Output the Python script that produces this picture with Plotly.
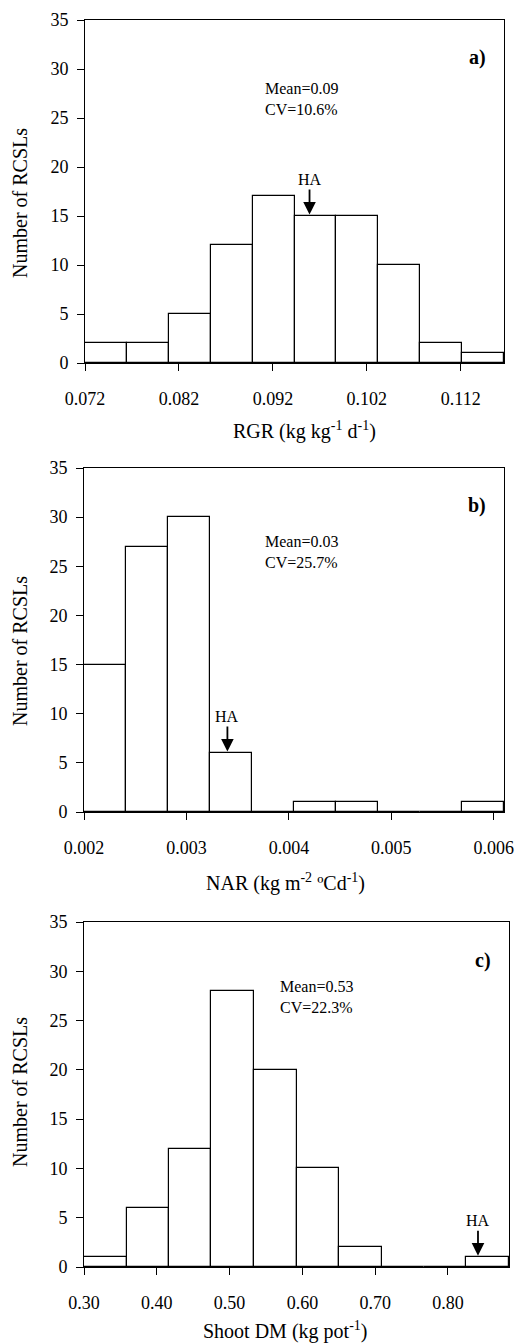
import plotly.graph_objects as go

W, H = 517, 1343

# ---------------- data ----------------
rgr_edges = [0.072, 0.07646, 0.08092, 0.08538, 0.08984, 0.0943, 0.09876, 0.10322, 0.10768, 0.11214, 0.1166]
rgr_counts = [2, 2, 5, 12, 17, 15, 15, 10, 2, 1]
rgr_ticks = [0.072, 0.082, 0.092, 0.102, 0.112]
rgr_ha = 0.0959

nar_edges = [0.002, 0.00241, 0.00282, 0.00323, 0.00364, 0.00405, 0.00446, 0.00487, 0.00528, 0.00569, 0.0061]
nar_counts = [15, 27, 30, 6, 0, 1, 1, 0, 0, 1]
nar_ticks = [0.002, 0.003, 0.004, 0.005, 0.006]
nar_ha = 0.0034

dm_edges = [0.300, 0.3584, 0.4168, 0.4751, 0.5335, 0.5919, 0.6503, 0.7087, 0.7670, 0.8254, 0.8838]
dm_counts = [1, 6, 12, 28, 20, 10, 2, 0, 0, 1]
dm_ticks = [0.30, 0.40, 0.50, 0.60, 0.70, 0.80]
dm_tick_labels = ["0.30", "0.40", "0.50", "0.60", "0.70", "0.80"]
dm_ha = 0.8412

FONT = "Liberation Serif"

panels = [
    dict(edges=rgr_edges, counts=rgr_counts, ticks=rgr_ticks, ticktext=[f"{t:.3f}" for t in rgr_ticks],
         ha=rgr_ha, xdom=(85, 504), ydom=(20, 363), label="a)",
         stats="Mean=0.09<br>CV=10.6%", stats_pos=(263, 99),
         xtitle="RGR (kg kg<sup>-1</sup> d<sup>-1</sup>)", xtitle_pos=(304, 430), ytitle_y=203),
    dict(edges=nar_edges, counts=nar_counts, ticks=nar_ticks, ticktext=[f"{t:.3f}" for t in nar_ticks],
         ha=nar_ha, xdom=(84, 504), ydom=(468, 812), label="b)",
         stats="Mean=0.03<br>CV=25.7%", stats_pos=(263, 552),
         xtitle="NAR (kg m<sup>-2</sup> ºCd<sup>-1</sup>)", xtitle_pos=(285, 882), ytitle_y=651),
    dict(edges=dm_edges, counts=dm_counts, ticks=dm_ticks, ticktext=dm_tick_labels,
         ha=dm_ha, xdom=(84, 509), ydom=(922, 1267), label="c)",
         stats="Mean=0.53<br>CV=22.3%", stats_pos=(278, 997),
         xtitle="Shoot DM (kg pot<sup>-1</sup>)", xtitle_pos=(285, 1330), ytitle_y=1092),
]

fig = go.Figure()
annotations = []
layout = {}

for i, p in enumerate(panels):
    k = "" if i == 0 else str(i + 1)
    xa, ya = "x" + k, "y" + k
    edges = p["edges"]
    centers = [(edges[j] + edges[j + 1]) / 2 for j in range(len(edges) - 1)]
    widths = [edges[j + 1] - edges[j] for j in range(len(edges) - 1)]
    fig.add_trace(go.Bar(x=centers, y=p["counts"], width=widths, xaxis=xa, yaxis=ya,
                         marker=dict(color="white", line=dict(color="black", width=1.2)),
                         showlegend=False, hoverinfo="skip"))
    x0, x1 = p["xdom"]
    y0, y1 = p["ydom"]
    layout["xaxis" + k] = dict(
        domain=[x0 / W, x1 / W], range=[edges[0], edges[-1]], anchor=ya,
        tickvals=p["ticks"], ticktext=p["ticktext"], ticks="outside", ticklen=7, tickwidth=1,
        tickcolor="black", showline=True, linecolor="black", linewidth=1, mirror=True,
        showgrid=False, zeroline=False, automargin=False, ticklabelstandoff=12,
        tickfont=dict(family=FONT, size=18, color="black"))
    layout["yaxis" + k] = dict(
        domain=[1 - y1 / H, 1 - y0 / H], range=[0, 35], dtick=5, anchor=xa,
        ticks="outside", ticklen=7, tickwidth=1, tickcolor="black",
        showline=True, linecolor="black", linewidth=1, mirror=True,
        showgrid=False, zeroline=False, automargin=False, ticklabelstandoff=5,
        tickfont=dict(family=FONT, size=18, color="black"))
    # panel label
    annotations.append(dict(text="<b>" + p["label"] + "</b>", xref="paper", yref="paper",
                            x=(x1 - 16) / W, y=1 - (y0 + 38) / H, xanchor="right", yanchor="middle",
                            showarrow=False, font=dict(family=FONT, size=20, color="black")))
    # stats text
    sx, sy = p["stats_pos"]
    annotations.append(dict(text=p["stats"], xref="paper", yref="paper", x=sx / W, y=1 - sy / H,
                            xanchor="left", yanchor="middle", align="left", showarrow=False,
                            font=dict(family=FONT, size=16, color="black")))
    # HA arrow
    j = next(n for n in range(len(edges) - 1) if edges[n] <= p["ha"] < edges[n + 1])
    annotations.append(dict(text="HA", xref=xa, yref=ya, x=p["ha"], y=p["counts"][j] + 0.15,
                            ax=0, ay=-35, showarrow=True, arrowhead=2, arrowsize=1.4, arrowwidth=1.8,
                            arrowcolor="black", font=dict(family=FONT, size=16, color="black")))
    # axis titles
    tx, ty = p["xtitle_pos"]
    annotations.append(dict(text=p["xtitle"], xref="paper", yref="paper", x=tx / W, y=1 - ty / H,
                            xanchor="center", yanchor="middle", showarrow=False,
                            font=dict(family=FONT, size=20, color="black")))
    annotations.append(dict(text="Number of RCSLs", xref="paper", yref="paper", x=20 / W,
                            y=1 - p["ytitle_y"] / H, xanchor="center", yanchor="middle",
                            textangle=-90, showarrow=False,
                            font=dict(family=FONT, size=20, color="black")))

fig.update_layout(width=W, height=H, margin=dict(l=0, r=0, t=0, b=0, pad=0, autoexpand=False),
                  paper_bgcolor="white", plot_bgcolor="white", bargap=0,
                  annotations=annotations, **layout)

fig.write_html("out.html")
